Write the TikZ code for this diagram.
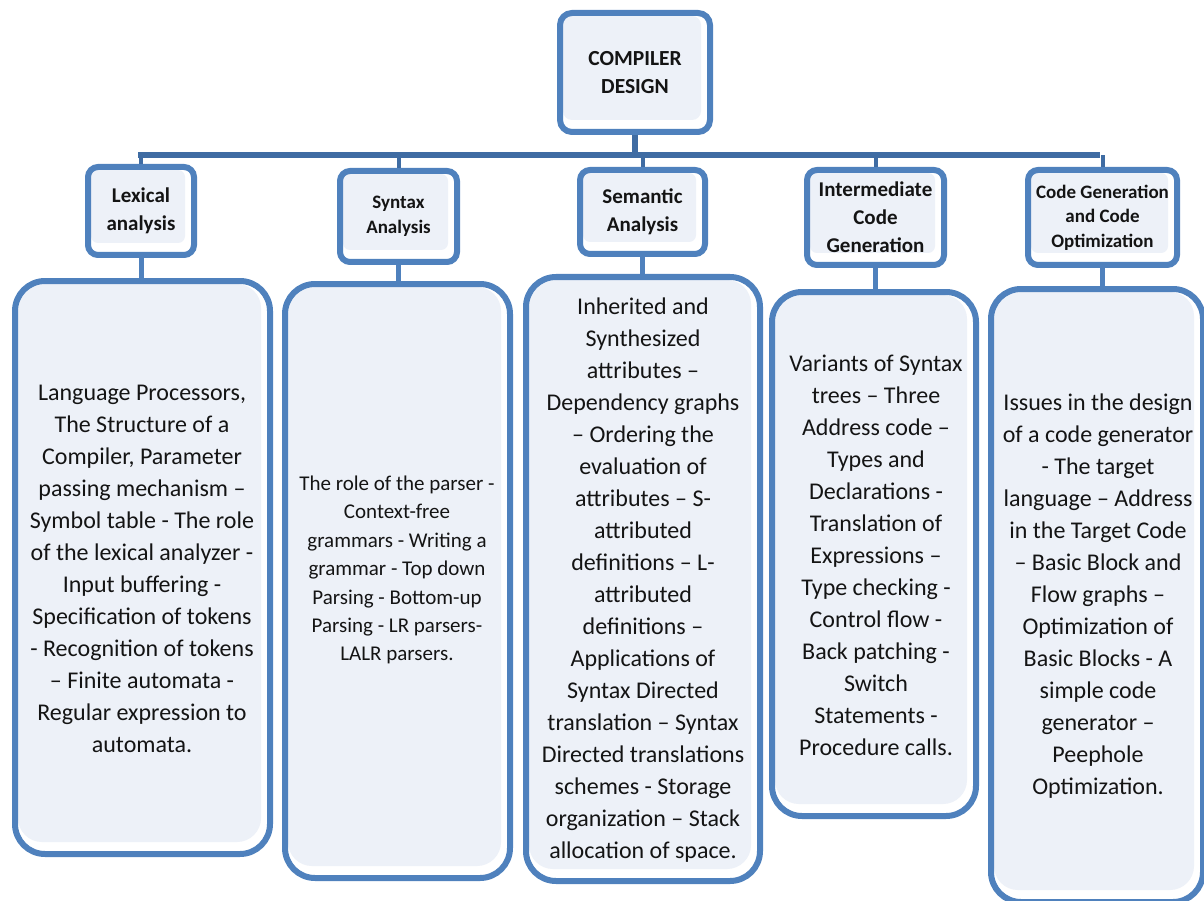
\documentclass[tikz,border=0pt]{standalone}
\usepackage{fontspec}
\setmainfont{Carlito}
\usetikzlibrary{calc}
\definecolor{bord}{HTML}{4F81BD}
\definecolor{barc}{HTML}{3F6CA3}
\definecolor{boxfill}{HTML}{EDF1F8}
\definecolor{ink}{HTML}{141414}

\begin{document}
\begin{tikzpicture}[x=1pt,y=-1pt,
  frame/.style={draw=bord, line width=6pt, fill=white, inner sep=0pt,
    align=center, text=ink},
  % inner pale panel, leaving a white rim along the right and bottom
  panel/.style={path picture={\fill[boxfill, rounded corners=#1]
      ($(path picture bounding box.north west)+(3pt,-3pt)$) rectangle
      ($(path picture bounding box.south east)+(-9pt,12pt)$);}},
  topbox/.style={frame, rounded corners=12pt, panel=9pt,
    font=\bfseries\fontsize{21.5}{28}\selectfont},
  headbox/.style={frame, rounded corners=10pt, panel=7pt,
    font=\bfseries\fontsize{21}{28}\selectfont},
  smallhead/.style={headbox, font=\bfseries\fontsize{19}{24.5}\selectfont},
  bodybox/.style={frame, rounded corners=30pt, panel=24pt},
  bodytext/.style={align=center, text=ink, inner sep=0pt,
    font=\fontsize{24}{32}\selectfont},
  bar/.style={draw=barc, line width=6pt},
  stub/.style={draw=bord, line width=5pt}
]
\useasboundingbox (0,0) rectangle (1204,901);

% root
\node[topbox, minimum width=150pt, minimum height=119pt] (root) at (635,72.5)
  {COMPILER\\DESIGN};

% second level headings
\node[headbox, minimum width=106pt, minimum height=88pt] (lexh) at (141,211)
  {Lexical\\analysis};
\node[smallhead, minimum width=117pt, minimum height=91pt] (synh) at (398.5,216.5)
  {Syntax\\Analysis};
\node[headbox, minimum width=125pt, minimum height=84pt] (semh) at (642.5,212)
  {Semantic\\Analysis};
\node[headbox, minimum width=137pt, minimum height=95pt] (imh) at (875.5,217.5)
  {Intermediate\\Code\\Generation};
\node[smallhead, minimum width=149pt, minimum height=95pt] (cgh) at (1102.5,217.5)
  {Code Generation\\and Code\\Optimization};

% topic panels
\node[bodybox, minimum width=255pt, minimum height=573pt] (lexb) at (142.5,567.5) {};
\node[bodybox, minimum width=225pt, minimum height=594pt] (synb) at (397.5,581) {};
\node[bodybox, minimum width=234pt, minimum height=604pt] (semb) at (643,579) {};
\node[bodybox, minimum width=204pt, minimum height=524pt] (imb) at (874,554) {};
\node[bodybox, minimum width=212pt, minimum height=613pt] (cgb) at (1097,595.5) {};

% topic texts
\node[bodytext] (lext) at (142,569)
  {Language Processors,\\The Structure of a\\Compiler, Parameter\\passing mechanism –\\
   Symbol table - The role\\of the lexical analyzer -\\Input buffering -\\
   Specification of tokens\\- Recognition of tokens\\– Finite automata -\\
   Regular expression to\\automata.};
\node[bodytext, font=\fontsize{21}{28.4}\selectfont] (synt) at (397,570)
  {The role of the parser -\\Context-free\\grammars - Writing a\\grammar - Top down\\
   Parsing - Bottom-up\\Parsing - LR parsers-\\LALR parsers.};
\node[bodytext] (semt) at (643,580)
  {Inherited and\\Synthesized\\attributes –\\Dependency graphs\\– Ordering the\\
   evaluation of\\attributes – S-\\attributed\\definitions – L-\\attributed\\
   definitions –\\Applications of\\Syntax Directed\\translation – Syntax\\
   Directed translations\\schemes - Storage\\organization – Stack\\allocation of space.};
\node[bodytext] (imt) at (876,555)
  {Variants of Syntax\\trees – Three\\Address code –\\Types and\\Declarations -\\
   Translation of\\Expressions –\\Type checking -\\Control flow -\\Back patching -\\
   Switch\\Statements -\\Procedure calls.};
\node[bodytext] (cgt) at (1098,596)
  {Issues in the design\\of a code generator\\- The target\\language – Address\\
   in the Target Code\\– Basic Block and\\Flow graphs –\\Optimization of\\
   Basic Blocks - A\\simple code\\generator –\\Peephole\\Optimization.};

% connectors
\coordinate (barL) at (138,155);
\coordinate (barR) at (1100,155);
\draw[bar] (barL) -- (barR);
\draw[bar] (root.south) -- (root.south |- barL);
\foreach \h in {lexh,synh,semh,imh,cgh}
  \draw[bar, line width=4pt] (\h.north) -- (\h.north |- barL);
\draw[stub] (lexh.south) -- (lexh.south |- lexb.north);
\draw[stub] (synh.south) -- (synh.south |- synb.north);
\draw[stub] (semh.south) -- (semh.south |- semb.north);
\draw[stub] (imh.south) -- (imh.south |- imb.north);
\draw[stub] (cgh.south) -- (cgh.south |- cgb.north);
\end{tikzpicture}
\end{document}
